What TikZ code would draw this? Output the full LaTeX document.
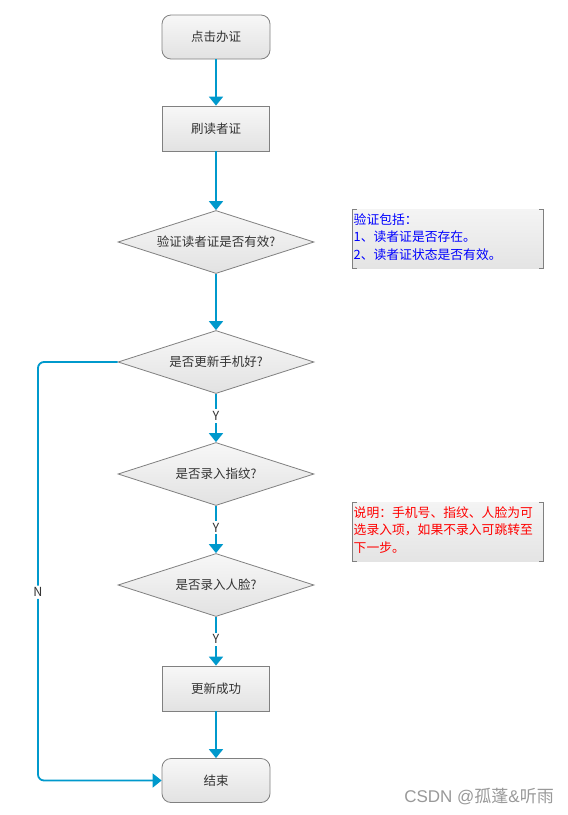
\documentclass[tikz,border=0pt]{standalone}
\usepackage{fontspec}
\setmainfont{Noto Sans CJK SC}
\newfontfamily\wmfont{Liberation Sans}
\usetikzlibrary{shapes.geometric,arrows.meta}
\definecolor{flow}{RGB}{0,153,204}
\definecolor{edgegray}{RGB}{128,128,128}
\definecolor{txt}{RGB}{51,51,51}
\definecolor{fillA}{RGB}{247,247,247}
\definecolor{fillB}{RGB}{226,226,226}
\definecolor{notefillA}{RGB}{244,244,244}
\definecolor{notefillB}{RGB}{228,228,228}
\tikzset{
  base/.style={draw=edgegray, line width=0.8pt, top color=fillA, bottom color=fillB,
    text=txt, font=\fontsize{12.5}{15}\selectfont, inner sep=0pt},
  termbox/.style={base, rectangle, rounded corners=9pt, minimum width=108pt, minimum height=44pt},
  procbox/.style={base, rectangle, minimum width=107pt, minimum height=45pt},
  decbox/.style={base, diamond, aspect=3.1, minimum width=196pt, minimum height=63pt},
  conn/.style={draw=flow, line width=1.8pt, -{Triangle[width=14pt,length=9pt]}},
  lbl/.style={fill=white, text=txt, font=\fontsize{12.5}{15}\selectfont, inner sep=2pt},
  notetext/.style={anchor=north west, align=left, inner sep=0pt, font=\fontsize{12.8}{17.5}\selectfont},
  bracket/.style={draw=edgegray, line width=1pt}
}
\begin{document}
\begin{tikzpicture}[x=1pt,y=-1pt]
\useasboundingbox (0,0) rectangle (568,815);
\fill[white] (0,0) rectangle (568,815);

% nodes
\node[termbox] (start) at (216,37) {点击办证};
\node[procbox] (read) at (216,128.5) {刷读者证};
\node[decbox] (d1) at (216,242) {验证读者证是否有效?};
\node[decbox] (d2) at (216,362) {是否更新手机好?};
\node[decbox] (d3) at (216,474) {是否录入指纹?};
\node[decbox] (d4) at (216,585) {是否录入人脸?};
\node[procbox] (ok) at (216,688.5) {更新成功};
\node[termbox] (fin) at (216,780.5) {结束};

% connectors
\draw[conn] (start.south) -- (read.north);
\draw[conn] (read.south) -- (d1.north);
\draw[conn] (d1.south) -- (d2.north);
\draw[conn] (d2.south) -- node[lbl, pos=0.46] {Y} (d3.north);
\draw[conn] (d3.south) -- node[lbl, pos=0.46] {Y} (d4.north);
\draw[conn] (d4.south) -- node[lbl, pos=0.46] {Y} (ok.north);
\draw[conn] (ok.south) -- (fin.north);
\coordinate (nl) at (38,362);
\coordinate (nb) at (38,780.5);
\draw[conn, rounded corners=6pt] (d2.west) -- (nl) -- node[lbl, pos=0.55] {N} (nb) -- (fin.west);

% note 1
\shade[top color=notefillA, bottom color=notefillB] (352.5,209) rectangle (543,268);
\draw[bracket] (356.5,209) -- (352.5,209) -- (352.5,268) -- (356.5,268);
\draw[bracket] (539,209) -- (543,209) -- (543,268) -- (539,268);
\node[notetext, text=blue] (n1) at (353.5,213) {验证包括：\\1、读者证是否存在。\\2、读者证状态是否有效。};

% note 2
\shade[top color=notefillA, bottom color=notefillB] (352.5,502) rectangle (543,561);
\draw[bracket] (356.5,502) -- (352.5,502) -- (352.5,561) -- (356.5,561);
\draw[bracket] (539,502) -- (543,502) -- (543,561) -- (539,561);
\node[notetext, text=red] (n2) at (353.5,506) {说明：手机号、指纹、人脸为可\\选录入项，如果不录入可跳转至\\下一步。};

% watermark
\node[anchor=east, text={rgb,255:red,153;green,153;blue,153}, font=\fontsize{17}{20}\selectfont, inner sep=0pt] (wm) at (554,797) {{\wmfont CSDN @}孤蓬{\wmfont \&}听雨};
\end{tikzpicture}
\end{document}
